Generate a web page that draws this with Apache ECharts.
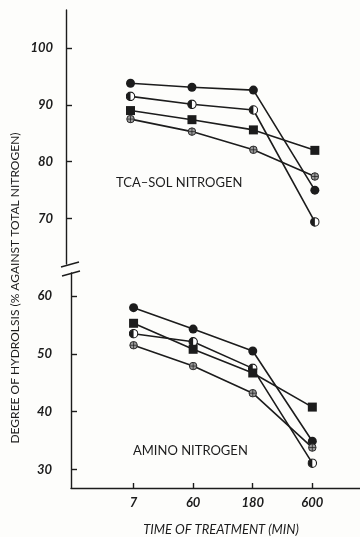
<!DOCTYPE html>
<html>
<head>
<meta charset="utf-8">
<script src="https://cdn.jsdelivr.net/npm/echarts@6/dist/echarts.min.js"></script>
<style>
  html, body { margin: 0; padding: 0; background: #fdfdfb; }
  #chart { width: 360px; height: 537px; }
</style>
</head>
<body>
<div id="chart"></div>
<script>
// Treatment times (min) shown along the x axis
const times = ['7', '60', '180', '600'];

// TCA-soluble nitrogen, % of total nitrogen
const tcaFilled = [93.8, 93.1, 92.6, 75.0];
const tcaHalf   = [91.5, 90.1, 89.1, 69.4];
const tcaSquare = [89.0, 87.4, 85.6, 82.0];
const tcaCross  = [87.5, 85.3, 82.1, 77.4];

// Amino nitrogen, % of total nitrogen
const aminoFilled = [58.0, 54.3, 50.5, 34.9];
const aminoHalf   = [53.5, 52.1, 47.5, 31.1];
const aminoSquare = [55.3, 50.8, 46.7, 40.8];
const aminoCross  = [51.5, 47.9, 43.2, 33.8];

// Tick labels for the two y-axis segments
const topTicks = [70, 80, 90, 100];
const bottomTicks = [30, 40, 50, 60];

const INK = '#1c1c1c';
const FONT = 'Lato, "Liberation Sans", sans-serif';

function svgSymbol(body) {
  const svg = '<svg xmlns="http://www.w3.org/2000/svg" width="20" height="20" viewBox="0 0 20 20">' + body + '</svg>';
  return 'image://data:image/svg+xml;charset=utf-8,' + encodeURIComponent(svg);
}
const halfSymbol = svgSymbol(
  '<circle cx="10" cy="10" r="8.4" fill="#fff" stroke="' + INK + '" stroke-width="2.2"/>' +
  '<path d="M10 1.6 A8.4 8.4 0 0 0 10 18.4 Z" fill="' + INK + '"/>'
);
const crossSymbol = svgSymbol(
  '<circle cx="10" cy="10" r="8.4" fill="#9a9a9a" stroke="' + INK + '" stroke-width="2"/>' +
  '<line x1="10" y1="2" x2="10" y2="18" stroke="' + INK + '" stroke-width="1.6"/>' +
  '<line x1="2" y1="10" x2="18" y2="10" stroke="' + INK + '" stroke-width="1.6"/>'
);

const styles = [
  { symbol: 'circle', size: 9 },
  { symbol: halfSymbol, size: 10 },
  { symbol: 'rect', size: 9 },
  { symbol: crossSymbol, size: 9 }
];

function makeSeries(values, idx, style) {
  return {
    type: 'line',
    xAxisIndex: idx,
    yAxisIndex: idx,
    data: values.map((v, i) => [i, v]),
    symbol: style.symbol,
    symbolSize: style.size,
    lineStyle: { color: INK, width: 1.6 },
    itemStyle: { color: INK, borderWidth: 0 },
    emphasis: { disabled: true },
    animation: false,
    z: 3
  };
}

const xMin = -1.05, xMax = 3.8;

function xAxisFor(idx, visible) {
  return {
    type: 'value',
    gridIndex: idx,
    min: xMin,
    max: xMax,
    show: visible,
    axisLine: { show: true, onZero: false, lineStyle: { color: INK, width: 1.4 } },
    axisTick: {
      show: true, inside: true, length: 5,
      customValues: times.map((t, i) => i),
      lineStyle: { color: INK, width: 1.4 }
    },
    axisLabel: {
      customValues: times.map((t, i) => i),
      formatter: v => times[Math.round(v)],
      color: INK, fontFamily: FONT, fontStyle: 'italic', fontWeight: 'bold', fontSize: 13, margin: 8
    },
    splitLine: { show: false }
  };
}

function yAxisFor(idx, min, max, ticks, margin) {
  return {
    type: 'value',
    gridIndex: idx,
    min: min,
    max: max,
    axisLine: { show: true, onZero: false, lineStyle: { color: INK, width: 1.4 } },
    axisTick: {
      show: true, inside: true, length: 6,
      customValues: ticks,
      lineStyle: { color: INK, width: 1.4 }
    },
    axisLabel: {
      customValues: ticks,
      color: INK, fontFamily: FONT, fontStyle: 'italic', fontWeight: 'bold', fontSize: 13, margin: margin
    },
    splitLine: { show: false }
  };
}

const chart = echarts.init(document.getElementById('chart'), null, { renderer: 'canvas' });

chart.setOption({
  backgroundColor: '#fdfdfb',
  animation: false,
  grid: [
    { left: 66, right: -4, top: 10, height: 254, outerBoundsMode: 'none' },
    { left: 71, right: 0, top: 273, height: 215, outerBoundsMode: 'none' }
  ],
  xAxis: [xAxisFor(0, false), xAxisFor(1, true)],
  yAxis: [
    yAxisFor(0, 62.0, 106.7, topTicks, 13),
    yAxisFor(1, 26.8, 64.0, bottomTicks, 19)
  ],
  series: [
    makeSeries(tcaFilled, 0, styles[0]),
    makeSeries(tcaHalf, 0, styles[1]),
    makeSeries(tcaSquare, 0, styles[2]),
    makeSeries(tcaCross, 0, styles[3]),
    makeSeries(aminoFilled, 1, styles[0]),
    makeSeries(aminoHalf, 1, styles[1]),
    makeSeries(aminoSquare, 1, styles[2]),
    makeSeries(aminoCross, 1, styles[3])
  ],
  graphic: [
    {
      type: 'text', left: 116, top: 176,
      style: { text: 'TCA–SOL NITROGEN', fill: INK, font: '13px ' + FONT }
    },
    {
      type: 'text', left: 133, top: 444,
      style: { text: 'AMINO NITROGEN', fill: INK, font: '13px ' + FONT }
    },
    {
      type: 'text', x: 221, y: 530,
      style: {
        text: 'TIME OF TREATMENT (MIN)', fill: INK,
        font: 'italic 13px ' + FONT, textAlign: 'center', textVerticalAlign: 'middle'
      }
    },
    {
      type: 'text', x: 15, y: 288, rotation: Math.PI / 2,
      style: {
        text: 'DEGREE OF HYDROLSIS (% AGAINST TOTAL NITROGEN)', fill: INK,
        font: '12px ' + FONT, textAlign: 'center', textVerticalAlign: 'middle'
      }
    },
    // axis break marks
    {
      type: 'line', shape: { x1: 61, y1: 267, x2: 79, y2: 262 },
      style: { stroke: INK, lineWidth: 1.4 }
    },
    {
      type: 'line', shape: { x1: 62, y1: 276, x2: 80, y2: 271 },
      style: { stroke: INK, lineWidth: 1.4 }
    }
  ]
});
</script>
</body>
</html>
